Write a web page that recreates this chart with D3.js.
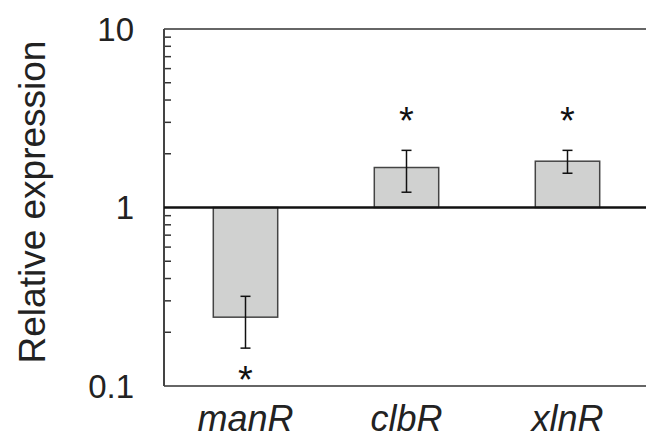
<!DOCTYPE html>
<html>
<head>
<meta charset="utf-8">
<script src="https://cdn.jsdelivr.net/npm/d3@7"></script>
<style>
  html, body { margin: 0; padding: 0; background: #fff; }
  svg { display: block; font-family: "Liberation Sans", Arial, sans-serif; }
</style>
</head>
<body>
<svg id="chart" width="646" height="440"></svg>
<script>
// Данные графика
const genes = ['manR', 'clbR', 'xlnR'];
const expression = [0.243, 1.675, 1.817];
const errLow = [0.163, 1.218, 1.556];
const errHigh = [0.318, 2.09, 2.09];
const significant = [true, true, true];
const yTicks = [0.1, 1, 10];

const svg = d3.select('#chart');
const W = 646;
const plotLeft = 164, plotTop = 29, plotBottom = 386;

const y = d3.scaleLog().domain([0.1, 10]).range([plotBottom, plotTop]);
const x = d3.scaleBand().domain(genes).range([165, 648])
  .paddingInner(0.6).paddingOuter(0.3);

// Мелкие деления внутри области
const minor = [];
[0.1, 1].forEach(d => { for (let k = 2; k <= 9; k++) minor.push(d * k); });
svg.append('g').selectAll('line').data(minor).enter().append('line')
  .attr('x1', plotLeft).attr('x2', plotLeft + 7)
  .attr('y1', d => y(d)).attr('y2', d => y(d))
  .attr('stroke', '#333').attr('stroke-width', 1.5);

// Рамка: верх, низ, левая ось
svg.append('line').attr('x1', plotLeft).attr('x2', W)
  .attr('y1', y(10)).attr('y2', y(10))
  .attr('stroke', '#333').attr('stroke-width', 1.5);
svg.append('line').attr('x1', plotLeft).attr('x2', W)
  .attr('y1', y(0.1)).attr('y2', y(0.1))
  .attr('stroke', '#333').attr('stroke-width', 1.5);
svg.append('line').attr('x1', plotLeft).attr('x2', plotLeft)
  .attr('y1', y(10)).attr('y2', y(0.1))
  .attr('stroke', '#444').attr('stroke-width', 2);

// Подписи оси Y
svg.append('g').selectAll('text').data(yTicks).enter().append('text')
  .attr('x', 134).attr('y', d => y(d))
  .attr('dy', '0.36em')
  .attr('text-anchor', 'end')
  .attr('font-size', 33)
  .attr('fill', '#222')
  .text(d => d3.format('~g')(d));

svg.append('text')
  .attr('transform', 'translate(45, 202) rotate(-90)')
  .attr('text-anchor', 'middle')
  .attr('font-size', 37)
  .attr('fill', '#222')
  .text('Relative expression');

// Столбцы от базовой линии 1
const data = genes.map((g, i) => ({
  gene: g, value: expression[i], lo: errLow[i], hi: errHigh[i], sig: significant[i]
}));

svg.append('g').selectAll('rect').data(data).enter().append('rect')
  .attr('x', d => x(d.gene))
  .attr('width', x.bandwidth())
  .attr('y', d => Math.min(y(d.value), y(1)))
  .attr('height', d => Math.abs(y(d.value) - y(1)))
  .attr('fill', '#d0d1d0')
  .attr('stroke', '#444')
  .attr('stroke-width', 1.5);

// Базовая линия на 1
svg.append('line').attr('x1', plotLeft).attr('x2', W)
  .attr('y1', y(1)).attr('y2', y(1))
  .attr('stroke', '#111').attr('stroke-width', 2.5);

// Планки погрешностей
const err = svg.append('g').attr('stroke', '#111').attr('stroke-width', 1.5);
data.forEach(d => {
  const cx = x(d.gene) + x.bandwidth() / 2;
  err.append('line').attr('x1', cx).attr('x2', cx)
    .attr('y1', y(d.lo)).attr('y2', y(d.hi));
  [d.lo, d.hi].forEach(v => {
    err.append('line').attr('x1', cx - 5).attr('x2', cx + 5)
      .attr('y1', y(v)).attr('y2', y(v));
  });
});

// Звёздочки значимости (центр звёздочки ~0.58em над базовой линией)
const starSize = 38;
svg.append('g').selectAll('text').data(data.filter(d => d.sig)).enter().append('text')
  .attr('x', d => x(d.gene) + x.bandwidth() / 2)
  .attr('y', d => (d.value < 1 ? y(d.lo) + 23 : y(d.hi) - 38) + starSize * 0.58)
  .attr('text-anchor', 'middle')
  .attr('font-size', starSize)
  .attr('fill', '#111')
  .text('*');

// Подписи генов
svg.append('g').selectAll('text').data(genes).enter().append('text')
  .attr('x', d => x(d) + x.bandwidth() / 2)
  .attr('y', 431)
  .attr('text-anchor', 'middle')
  .attr('font-size', 36)
  .attr('font-style', 'italic')
  .attr('fill', '#222')
  .text(d => d);
</script>
</body>
</html>
